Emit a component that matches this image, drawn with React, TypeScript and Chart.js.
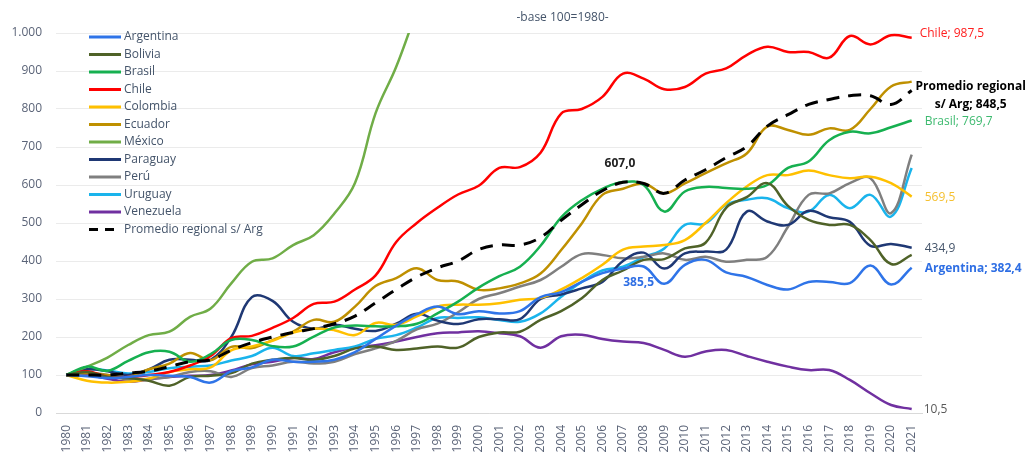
import React, { useEffect, useRef } from 'react';
import { Chart, registerables } from 'chart.js';

Chart.register(...registerables);

const years = [
  '1980', '1981', '1982', '1983', '1984', '1985', '1986', '1987', '1988', '1989',
  '1990', '1991', '1992', '1993', '1994', '1995', '1996', '1997', '1998', '1999',
  '2000', '2001', '2002', '2003', '2004', '2005', '2006', '2007', '2008', '2009',
  '2010', '2011', '2012', '2013', '2014', '2015', '2016', '2017', '2018', '2019',
  '2020', '2021',
];

const argentina = [100, 97, 92, 95, 100, 98, 95, 80, 110, 120, 140, 135, 135, 140, 160, 195, 230, 260, 280, 260, 268, 262, 268, 305, 318, 345, 368, 380, 385.5, 340, 390, 403, 370, 358, 337, 325, 345, 345, 342, 388, 338, 382.4];
const bolivia = [100, 108, 95, 92, 85, 72, 95, 98, 105, 130, 140, 145, 140, 150, 170, 175, 166, 170, 175, 172, 200, 212, 214, 245, 268, 302, 350, 375, 403, 405, 433, 448, 540, 568, 605, 545, 508, 495, 495, 455, 392, 416];
const brasil = [100, 122, 111, 137, 160, 161, 135, 155, 192, 192, 176, 175, 201, 225, 230, 228, 228, 235, 262, 293, 330, 360, 385, 440, 515, 560, 590, 608, 600, 530, 583, 595, 592, 590, 600, 645, 662, 718, 740, 736, 752, 769.7];
const chile = [100, 110, 95, 95, 100, 108, 125, 150, 197, 203, 224, 250, 287, 293, 325, 362, 450, 500, 540, 575, 598, 645, 647, 685, 788, 800, 832, 893, 880, 852, 858, 893, 907, 942, 964, 950, 950, 935, 992, 970, 994, 987.5];
const colombia = [100, 85, 80, 82, 90, 108, 115, 120, 165, 175, 190, 212, 222, 218, 205, 237, 232, 254, 280, 285, 285, 289, 298, 303, 325, 355, 390, 430, 438, 442, 455, 500, 552, 596, 626, 626, 638, 626, 618, 622, 605, 569.5];
const ecuador = [100, 105, 100, 95, 115, 130, 158, 139, 174, 171, 192, 214, 245, 240, 280, 334, 355, 381, 350, 346, 324, 328, 341, 367, 429, 499, 574, 590, 604, 578, 604, 631, 657, 683, 754, 745, 732, 749, 745, 800, 859, 872];
const mexico = [100, 122, 146, 179, 205, 214, 253, 275, 341, 398, 407, 442, 468, 525, 605, 789, 911, 1060, null, null, null, null, null, null, null, null, null, null, null, null, null, null, null, null, null, null, null, null, null, null, null, null];
const paraguay = [100, 115, 110, 100, 115, 140, 140, 140, 200, 305, 295, 240, 222, 232, 222, 216, 235, 261, 243, 234, 247, 247, 247, 300, 312, 328, 345, 400, 422, 380, 420, 425, 430, 530, 504, 495, 532, 515, 503, 440, 445, 434.9];
const peru = [100, 105, 100, 88, 90, 95, 108, 110, 95, 118, 125, 135, 130, 135, 155, 170, 190, 220, 235, 265, 300, 315, 333, 350, 385, 418, 416, 407, 411, 420, 403, 411, 398, 403, 411, 490, 574, 578, 605, 618, 526, 680];
const uruguay = [100, 115, 112, 104, 108, 118, 122, 125, 138, 150, 172, 150, 157, 166, 175, 195, 205, 225, 250, 250, 252, 245, 240, 262, 306, 345, 375, 385, 410, 433, 495, 499, 548, 561, 565, 539, 530, 574, 539, 574, 517, 645];
const venezuela = [100, 100, 90, 82, 88, 95, 98, 100, 112, 128, 135, 145, 142, 160, 172, 178, 188, 200, 210, 212, 215, 210, 202, 172, 202, 206, 195, 188, 184, 166, 148, 162, 166, 150, 135, 122, 113, 113, 87, 52, 21, 10.5];
const promedio = [100, 100, 100, 105, 110, 122, 135, 140, 165, 185, 200, 212, 222, 235, 255, 290, 325, 358, 382, 400, 430, 442, 442, 462, 507, 548, 585, 607, 604, 578, 613, 640, 672, 701, 755, 785, 812, 825, 835, 835, 812, 848.5];

const yTicks = [0, 100, 200, 300, 400, 500, 600, 700, 800, 900, 1000];
const chartTitle = '-base 100=1980-';

const FONT = '"Open Sans", "DejaVu Sans", sans-serif';
const TEXT = '#44546a';

const fmt = (v: number) => v.toFixed(1).replace('.', ',');
const fmtThousands = (v: number) => String(Math.round(v)).replace(/\B(?=(\d{3})+(?!\d))/g, '.');

const titlePlugin = {
  id: 'customTitle',
  afterDraw(chart: any) {
    const { ctx, chartArea } = chart;
    ctx.save();
    ctx.font = `12px ${FONT}`;
    ctx.fillStyle = TEXT;
    ctx.textAlign = 'center';
    ctx.textBaseline = 'middle';
    ctx.fillText(chartTitle, chartArea.left + (chartArea.right - chartArea.left) * 0.585, 18);
    ctx.restore();
  },
};

const legendPlugin = {
  id: 'customLegend',
  afterDatasetsDraw(chart: any) {
    const { ctx, chartArea } = chart;
    ctx.save();
    ctx.font = `12px ${FONT}`;
    ctx.textBaseline = 'middle';
    ctx.textAlign = 'left';
    chart.data.datasets.forEach((ds: any, i: number) => {
      const y = chartArea.top + 4 + i * 17.5;
      const x0 = chartArea.left + 33;
      ctx.strokeStyle = ds.borderColor;
      ctx.lineWidth = 3;
      ctx.setLineDash(ds.borderDash && ds.borderDash.length ? [9, 7] : []);
      ctx.beginPath();
      ctx.moveTo(x0, y);
      ctx.lineTo(x0 + 32, y);
      ctx.stroke();
      ctx.setLineDash([]);
      ctx.fillStyle = TEXT;
      ctx.fillText(ds.label, x0 + 35, y);
    });
    ctx.restore();
  },
};

const labelsPlugin = {
  id: 'endLabels',
  afterDatasetsDraw(chart: any) {
    const { ctx } = chart;
    const last = years.length - 1;
    const pt = (ds: number, idx: number) => chart.getDatasetMeta(ds).data[idx];
    const draw = (text: string, x: number, y: number, color: string, bold: boolean, align: CanvasTextAlign) => {
      ctx.font = `${bold ? 'bold ' : ''}12px ${FONT}`;
      ctx.fillStyle = color;
      ctx.textAlign = align;
      ctx.textBaseline = 'middle';
      ctx.fillText(text, x, y);
    };
    ctx.save();
    let p = pt(3, last);
    draw(`Chile; ${fmt(chile[last])}`, p.x + 8, p.y - 4, '#ff2020', false, 'left');
    p = pt(11, last);
    draw('Promedio regional', p.x + 59, p.y - 4, '#000000', true, 'center');
    draw(`s/ Arg; ${fmt(promedio[last])}`, p.x + 59, p.y + 14, '#000000', true, 'center');
    p = pt(2, last);
    draw(`Brasil; ${fmt(brasil[last])}`, p.x + 13, p.y + 1, '#3dba6f', false, 'left');
    p = pt(4, last);
    draw(fmt(colombia[last]), p.x + 13, p.y + 1, '#f5c030', false, 'left');
    p = pt(7, last);
    draw(fmt(paraguay[last]), p.x + 13, p.y + 1, TEXT, false, 'left');
    p = pt(0, last);
    draw(`Argentina; ${fmt(argentina[last])}`, p.x + 13, p.y + 1, '#2f6fe4', true, 'left');
    p = pt(10, last);
    draw(fmt(venezuela[last]), p.x + 12, p.y + 1, '#595959', false, 'left');
    const i07 = years.indexOf('2007');
    p = pt(11, i07);
    draw(fmt(promedio[i07]), p.x - 3, p.y - 19, '#222222', true, 'center');
    const i08 = years.indexOf('2008');
    p = pt(0, i08);
    draw(fmt(argentina[i08]), p.x - 5, p.y + 16, '#2f6fe4', true, 'center');
    ctx.restore();
  },
};

const series = [
  { label: 'Argentina', data: argentina, color: '#2f74e8' },
  { label: 'Bolivia', data: bolivia, color: '#4f6228' },
  { label: 'Brasil', data: brasil, color: '#16b050' },
  { label: 'Chile', data: chile, color: '#ff0000' },
  { label: 'Colombia', data: colombia, color: '#ffc000' },
  { label: 'Ecuador', data: ecuador, color: '#bf9000' },
  { label: 'México', data: mexico, color: '#70ad47' },
  { label: 'Paraguay', data: paraguay, color: '#1f3874' },
  { label: 'Perú', data: peru, color: '#7f7f7f' },
  { label: 'Uruguay', data: uruguay, color: '#1ab4ec' },
  { label: 'Venezuela', data: venezuela, color: '#7030a0' },
];

export default function App() {
  const ref = useRef<HTMLCanvasElement>(null);
  useEffect(() => {
    if (!ref.current) return;
    const datasets: any[] = series.map((s) => ({
      label: s.label,
      data: s.data,
      borderColor: s.color,
      backgroundColor: s.color,
      borderWidth: 2.5,
      pointRadius: 0,
      tension: 0.4,
      fill: false,
      clip: 0,
    }));
    datasets.push({
      label: 'Promedio regional s/ Arg',
      data: promedio,
      borderColor: '#000000',
      backgroundColor: '#000000',
      borderWidth: 3,
      borderDash: [13, 9],
      pointRadius: 0,
      tension: 0.4,
      fill: false,
      clip: 0,
      order: -1,
    });
    const chart = new Chart(ref.current, {
      type: 'line',
      data: { labels: years, datasets },
      plugins: [titlePlugin, legendPlugin, labelsPlugin],
      options: {
        responsive: false,
        animation: false,
        layout: { padding: { top: 33, right: 107, left: 0, bottom: 0 } },
        plugins: {
          legend: { display: false },
          title: { display: false },
          tooltip: { enabled: false },
        },
        scales: {
          x: {
            offset: true,
            grid: { display: false },
            border: { display: true, color: '#d9d9d9', width: 1 },
            ticks: {
              autoSkip: false,
              minRotation: 90,
              maxRotation: 90,
              padding: 4,
              color: '#5b6478',
              font: { family: FONT, size: 12 },
            },
            afterFit: (scale: any) => {
              scale.height = 40;
            },
          },
          y: {
            min: 0,
            max: 1000,
            afterBuildTicks: (scale: any) => {
              scale.ticks = yTicks.map((v) => ({ value: v }));
            },
            grid: { color: '#ebebeb', drawTicks: false },
            border: { display: false },
            ticks: {
              padding: 14,
              color: '#5b6478',
              font: { family: FONT, size: 12 },
              callback: (v: any) => fmtThousands(Number(v)),
            },
            afterFit: (scale: any) => {
              scale.width = 56;
            },
          },
        },
      },
    });
    return () => chart.destroy();
  }, []);
  return (
    <div style={{ position: 'fixed', left: 0, top: 0, width: 1029, height: 453, background: '#ffffff' }}>
      <canvas ref={ref} width={1029} height={453} />
    </div>
  );
}
